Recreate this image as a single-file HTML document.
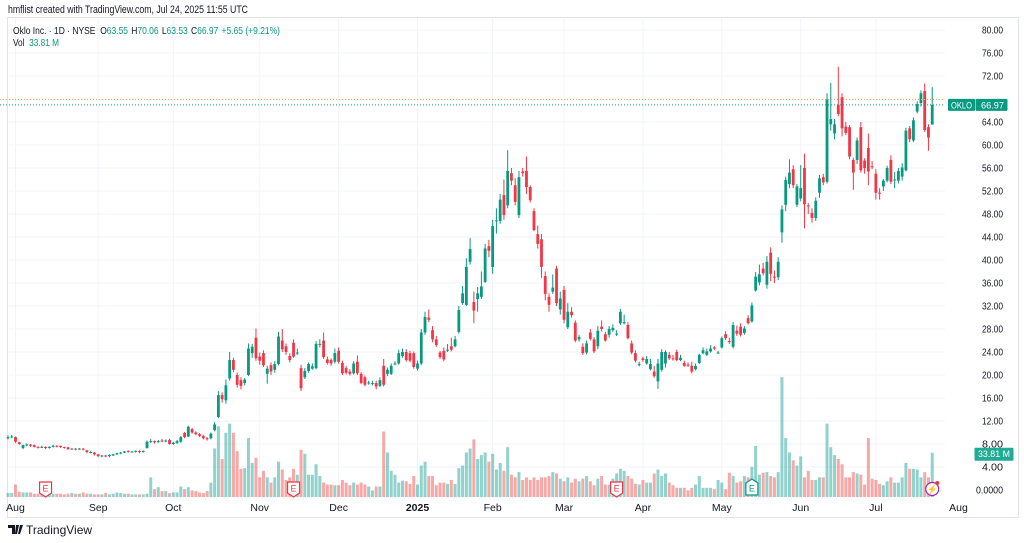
<!DOCTYPE html>
<html><head><meta charset="utf-8"><style>
html,body{margin:0;padding:0;background:#fff;}
svg{display:block;font-family:"Liberation Sans",sans-serif;}
</style></head><body>
<svg id="chart" width="1024" height="543" viewBox="0 0 1024 543" xmlns="http://www.w3.org/2000/svg">
<rect x="0" y="0" width="1024" height="543" fill="#ffffff"/>
<text x="8" y="13" font-size="11" fill="#131722" textLength="240" lengthAdjust="spacingAndGlyphs">hmflist created with TradingView.com, Jul 24, 2025 11:55 UTC</text>
<rect x="7.5" y="17.5" width="1011" height="500" fill="none" stroke="#e0e3eb"/>
<g id="grid"></g>
<g id="vol"></g>
<g id="candles"></g>
<g id="axes"></g>
<text x="13" y="34" font-size="10.5" fill="#131722" textLength="267" lengthAdjust="spacingAndGlyphs">Oklo Inc. · 1D · NYSE <tspan dx="3">O</tspan><tspan fill="#089981">63.55</tspan><tspan dx="4">H</tspan><tspan fill="#089981">70.06</tspan><tspan dx="4">L</tspan><tspan fill="#089981">63.53</tspan><tspan dx="4">C</tspan><tspan fill="#089981">66.97</tspan><tspan dx="4" fill="#089981">+5.65 (+9.21%)</tspan></text>
<text x="13" y="46" font-size="10.5" fill="#131722" textLength="46" lengthAdjust="spacingAndGlyphs">Vol <tspan dx="3" fill="#089981">33.81 M</tspan></text>
<g>
<path d="M8 525h7v9h-3v-6h-4z M16 525h3l-2 9h-2z M20 525h3l-3 9h-2z" fill="#131722"/>
<text x="26" y="534" font-size="12" fill="#131722">TradingView</text>
</g>
</svg>
<script>
const opens=[9.0,9.2,9.2,8.3,7.3,7.8,7.9,7.8,7.5,7.4,7.5,7.3,7.5,7.7,7.7,7.5,7.4,7.2,7.2,7.1,7.2,6.9,6.6,6.5,6.2,5.9,6.0,5.9,6.0,6.2,6.4,6.5,6.8,6.7,6.7,6.8,6.7,7.3,8.4,8.5,8.4,8.6,8.5,8.7,8.0,8.2,8.4,9.9,9.3,10.6,10.0,9.7,9.4,9.0,9.0,10.4,12.7,16.5,15.6,19.4,22.6,20.0,19.1,18.6,20.0,23.8,26.5,23.2,23.8,20.2,21.7,20.9,21.9,26.0,25.0,23.3,25.6,23.9,21.2,19.6,20.7,21.1,21.2,25.3,26.0,22.7,22.6,22.3,24.2,22.1,21.2,20.6,20.3,22.3,20.2,19.6,18.7,18.6,18.6,18.1,21.6,20.2,20.2,21.9,22.0,23.3,24.0,23.8,23.8,21.1,22.0,27.4,30.0,27.8,26.2,23.9,24.2,24.3,25.0,25.0,27.5,32.5,32.2,39.7,32.7,33.2,33.6,36.2,42.4,38.8,46.8,46.8,51.3,49.5,55.1,53.0,47.8,55.4,55.5,52.7,48.5,44.5,43.6,37.2,33.6,34.5,38.5,31.4,34.8,28.3,31.0,29.1,26.2,24.9,23.9,27.4,26.2,25.0,28.4,27.1,27.0,27.8,27.2,29.0,29.0,28.7,25.5,23.8,21.7,22.9,22.0,21.0,20.6,18.9,20.9,22.0,23.5,22.9,24.0,22.6,22.1,21.8,21.6,21.0,22.1,23.8,23.5,24.1,24.8,23.8,24.8,27.1,25.9,24.9,27.7,28.4,27.3,29.9,29.3,34.7,36.1,38.5,35.7,41.3,37.1,37.0,44.8,49.6,53.2,55.8,49.6,50.7,56.0,49.5,48.2,47.3,51.7,54.4,53.6,63.6,62.0,67.0,68.3,63.2,63.1,57.4,57.4,63.1,57.3,59.5,56.3,55.0,51.7,52.8,53.8,57.4,54.0,53.8,54.5,55.6,62.9,60.8,65.8,67.3,69.4,63.1,63.55];
const closes=[9.2,9.3,8.4,8.0,7.8,7.9,7.7,7.5,7.4,7.5,7.3,7.5,7.7,7.6,7.5,7.4,7.1,7.2,7.1,7.2,7.1,6.6,6.6,6.2,5.9,6.0,5.9,6.1,6.2,6.4,6.5,6.7,6.7,6.7,6.8,6.6,6.8,8.4,8.5,8.3,8.5,8.5,8.6,8.0,8.2,8.5,9.2,9.2,11.0,10.0,9.7,9.4,9.0,8.9,9.8,11.4,16.5,15.8,18.2,22.6,20.9,18.3,18.1,19.2,24.6,24.9,22.9,22.5,21.7,21.1,20.6,21.9,26.7,24.5,24.0,22.6,23.2,23.9,17.7,20.7,21.9,21.5,25.4,25.4,23.1,22.1,22.0,23.8,22.3,20.3,20.4,20.2,22.0,20.3,18.6,18.3,18.7,18.6,18.0,19.1,18.3,20.9,21.6,22.0,23.8,24.0,22.6,22.5,21.4,22.0,27.4,30.1,29.6,26.2,25.2,23.1,22.7,24.4,24.4,26.2,31.3,34.2,38.8,41.9,31.2,34.2,35.4,42.0,41.6,45.9,46.9,50.5,47.8,55.5,53.8,50.1,54.4,55.1,52.7,50.4,45.2,42.8,38.8,34.1,32.2,35.2,32.5,33.3,29.6,31.0,30.4,26.0,26.6,23.8,25.5,26.3,24.1,27.7,28.0,26.0,28.0,28.2,27.2,31.0,29.2,26.4,23.9,22.5,21.9,22.6,22.8,21.9,19.8,22.0,24.0,24.0,22.9,22.8,22.6,23.0,21.6,21.7,20.6,21.6,23.5,24.3,24.1,24.6,24.6,23.9,26.4,26.4,25.8,28.7,27.2,27.0,28.1,29.0,32.1,37.1,37.5,37.7,39.7,37.6,37.0,39.7,48.8,53.9,55.2,53.0,52.8,52.5,49.7,49.4,47.3,50.3,54.2,53.5,67.9,64.5,63.6,65.4,62.9,62.1,58.0,55.2,60.8,55.6,56.0,55.4,56.2,51.7,51.6,53.8,56.0,53.6,54.0,55.5,56.1,62.5,61.0,64.3,67.1,69.0,62.6,61.3,66.97];
const highs=[9.5,9.6,9.3,8.4,7.9,8.1,8.0,7.9,7.6,7.7,7.6,7.6,7.9,7.8,7.7,7.5,7.5,7.3,7.3,7.3,7.3,7.0,6.8,6.6,6.3,6.1,6.1,6.2,6.3,6.5,6.6,6.8,6.9,6.8,6.9,6.9,6.9,8.6,8.9,8.6,8.7,8.9,8.8,8.9,8.4,8.7,9.4,10.1,11.2,10.8,10.2,9.9,9.6,9.2,10.0,11.8,17.2,17.0,19.2,24.0,23.0,20.4,19.6,19.5,25.5,25.4,28.1,23.9,24.3,21.6,22.2,22.4,27.5,28.0,25.5,23.8,26.2,24.6,21.8,21.2,22.2,22.0,25.9,26.2,27.4,23.2,22.9,24.6,24.8,22.5,21.6,21.0,22.4,23.4,20.5,19.9,19.0,19.0,19.0,19.6,22.8,21.3,22.0,22.4,24.4,24.6,24.5,24.2,24.1,22.5,28.0,31.0,31.4,28.5,26.8,24.2,24.8,25.4,26.5,26.8,32.0,35.5,40.3,43.8,34.5,35.3,38.0,42.8,43.5,47.0,49.0,51.5,54.0,59.1,56.0,54.2,55.5,56.0,58.0,53.0,49.0,46.0,44.5,38.0,34.2,37.5,39.0,34.5,35.5,32.5,31.8,29.5,27.0,25.5,26.0,28.0,26.6,28.5,29.5,27.5,28.5,28.8,27.8,31.5,30.5,29.2,26.0,24.3,22.3,23.2,23.3,22.8,21.6,22.8,24.5,24.3,24.0,23.5,24.4,23.5,22.5,22.2,22.3,22.0,23.7,24.8,24.6,25.2,25.0,24.2,26.7,27.6,26.5,29.2,28.6,29.0,28.5,30.4,32.6,37.9,39.2,39.5,40.7,42.2,38.2,40.5,49.5,54.5,57.5,56.5,53.2,56.5,58.5,49.9,49.0,50.9,54.8,55.0,69.0,70.8,64.5,73.6,69.0,64.0,63.5,57.8,61.3,64.0,57.7,62.0,57.2,55.8,52.5,54.1,56.4,58.2,55.3,56.0,56.8,63.0,63.3,64.8,67.6,69.5,70.7,63.6,70.06];
const lows=[8.8,9.0,8.2,7.8,7.1,7.6,7.5,7.4,7.2,7.3,7.1,7.2,7.4,7.4,7.3,7.2,7.0,7.0,6.9,7.0,6.9,6.4,6.4,6.0,5.7,5.7,5.7,5.7,5.9,6.1,6.2,6.4,6.5,6.5,6.5,6.4,6.5,7.2,8.2,8.1,8.2,8.3,8.3,7.9,7.8,8.0,8.2,9.0,9.2,9.8,9.5,9.2,8.8,8.6,8.8,10.2,12.5,15.2,15.0,19.0,20.5,17.8,17.5,18.2,19.8,23.0,22.5,21.8,21.4,18.5,20.0,20.4,21.7,24.0,23.5,22.2,23.0,23.5,17.2,19.3,20.4,20.9,21.0,24.8,22.8,21.8,21.6,22.0,22.0,20.0,20.1,19.9,20.1,20.0,18.4,18.0,18.3,18.2,17.5,17.9,18.0,19.8,20.0,21.7,21.8,23.0,22.3,22.2,21.1,20.8,21.7,27.0,29.2,25.7,24.9,22.8,22.4,24.0,24.1,24.8,27.2,32.2,32.0,39.2,29.0,31.0,33.2,36.0,40.5,37.6,44.6,46.3,47.0,49.0,53.0,49.5,47.3,54.5,51.5,50.0,45.0,42.0,36.9,33.0,31.0,34.1,32.0,30.5,29.0,28.0,30.0,25.7,25.8,23.5,23.6,26.0,23.8,24.5,27.6,25.8,26.5,27.5,26.8,28.7,28.8,26.2,23.6,22.2,21.5,22.3,21.8,20.8,19.5,17.6,20.6,21.3,22.6,22.5,22.4,22.4,21.4,21.4,20.3,20.8,21.9,23.6,23.3,23.9,24.3,23.7,24.6,26.1,25.4,24.6,26.8,26.7,27.0,28.8,29.1,34.5,35.6,37.3,35.0,36.3,36.0,36.5,43.0,48.5,52.5,52.5,49.2,50.2,45.5,48.0,46.5,46.8,50.8,53.0,53.3,62.5,61.0,65.0,61.5,61.7,57.5,52.2,56.7,55.2,55.0,53.0,55.8,50.5,50.5,52.0,53.5,53.2,52.5,53.3,53.8,55.4,60.5,60.5,65.5,66.7,62.3,59.0,63.53];
const volumes=[3,3,9.5,4,3.5,3.5,3.5,2.5,2.5,2.5,3,2.5,2.5,2.5,2.5,2,2.5,3,2.5,2.5,3.5,2.5,2.5,2,2,2,3,2,2.5,3.5,3,2.5,2.5,2,2,2,2,2.5,15,6,7.5,4.5,4.5,3,3.5,3.5,8,6,7.5,5,4.5,3.5,3,4.5,11,37,54,29,49,56,49,35,21.5,22,45,26,30,15,20,15,11,15,27,21,13,15,21.5,17,36,33,17,17,25,16,11,9.5,9.5,9,9,13,11,9,11,9.5,11,9.5,8,5,8,8,50,34,20,17,11,12.5,12,10,16,9.5,24,27,16,16,9,11,11,10,13,10,22,24,34,37,44,29,32,34,27,33,21,26,20,38,17,15,19,13,15,13,15,13,15,15,16,19,18,14,12,15,11,14,12,14,16,12,9,14,16,9.5,9.5,14,18,21.5,20,16,14,10,9.5,13,11,11,18,21,16,18,11,9,7,7,7,5,7,9.5,16,7,7,7,6,13,11,6,18.5,16,11,12,16,15,23,39,17,18.5,19,16,15,19,91.5,45,34,28,24,31,15,20,13,13,15,15,56,38,32,29,25,15,15,19,18,17,9.5,45,14,13,10,9,12,15,11,11,15,26,21.5,21.5,21,15,19,15,33.81];
const priceTicks=[0,4,8,12,16,20,24,28,32,36,40,44,48,52,56,60,64,68,72,76,80];
const monthLabels=["Aug","Sep","Oct","Nov","Dec","2025","Feb","Mar","Apr","May","Jun","Jul","Aug"];
const monthIndex=[2,24,44,67,88,109,129,148,169,190,211,231,253];
const earningsIdx=[10,76,162,198];
const earningsBeat=[false,false,false,true];

const NS="http://www.w3.org/2000/svg";
const X0=8, STEP=3.757, Y0=490, PPU=5.75, VBASE=497, VPX=1.31;
const xOf=i=>X0+i*STEP;
const yOf=p=>Y0-p*PPU;
const vh=v=>v*VPX;
function mk(tag,attrs,parent){const e=document.createElementNS(NS,tag);for(const k in attrs)e.setAttribute(k,attrs[k]);parent.appendChild(e);return e;}
const grid=document.getElementById('grid'),vol=document.getElementById('vol'),cg=document.getElementById('candles'),ax=document.getElementById('axes');

priceTicks.forEach(t=>{
  const y=yOf(t);
  if(t>0){const l=mk('line',{x1:8,x2:945,y1:y,y2:y,stroke:'#f0f3fa','stroke-width':1},grid);
  
  }
  if(t===68) return;
  const s=t===0?'0.0000':t.toFixed(2);
  const tx=mk('text',{x:1003,y:y+3.5,'font-size':10,fill:'#131722','text-anchor':'end',textLength:t===0?27:21,lengthAdjust:'spacingAndGlyphs'},ax);
  tx.textContent=s;
  
  
});
monthLabels.forEach((m,k)=>{
  const x=xOf(monthIndex[k]);
  if(x<945){const l=mk('line',{x1:x,x2:x,y1:18,y2:497,stroke:'#f0f3fa','stroke-width':1},grid);
  
  }
  const tx=mk('text',{x:x,y:511,'font-size':10.5,fill:'#131722','text-anchor':'middle','font-weight':m==='2025'?'bold':'normal'},ax);
  tx.textContent=m;
  
  
});

for(let i=0;i<closes.length;i++){
  const up=closes[i]>=opens[i];
  const x=xOf(i);
  const h=vh(volumes[i]);
  const vb=mk('rect',{x:x-1.5,y:VBASE-h,width:3,height:h,fill:up?'rgba(38,166,154,0.5)':'rgba(239,83,80,0.5)'},vol);
  
  
  const col=up?'#089981':'#f23645';
  const w=mk('line',{x1:x,x2:x,y1:yOf(highs[i]),y2:yOf(lows[i]),stroke:col,'stroke-width':1},cg);
  
  
  const top=yOf(Math.max(opens[i],closes[i])),bot=yOf(Math.min(opens[i],closes[i]));
  const b=mk('rect',{x:x-1.4,y:top,width:2.8,height:Math.max(1,bot-top),fill:col},cg);
  
  
}

const hl=mk('line',{x1:0,x2:945,y1:99.5,y2:99.5,stroke:'#f7a35c','stroke-width':1,'stroke-dasharray':'1,2'},ax);


const last=closes[closes.length-1];
const ll=mk('line',{x1:0,x2:945,y1:yOf(last),y2:yOf(last),stroke:'#089981','stroke-width':1,'stroke-dasharray':'1,2'},ax);



const by=yOf(last);
const b1=mk('rect',{x:948,y:by-6,width:27,height:12,fill:'#089981',rx:1},ax);


const t1=mk('text',{x:961.5,y:by+3.5,'font-size':9.5,fill:'#fff','text-anchor':'middle',textLength:21,lengthAdjust:'spacingAndGlyphs'},ax);t1.textContent='OKLO';


const b2=mk('rect',{x:975.5,y:by-6,width:32,height:12,fill:'#089981',rx:1},ax);


const t2=mk('text',{x:1004,y:by+3.5,'font-size':9.5,fill:'#fff','text-anchor':'end',textLength:23,lengthAdjust:'spacingAndGlyphs'},ax);t2.textContent=last.toFixed(2);


const lv=volumes[volumes.length-1];
const vy=VBASE-vh(lv)+1;
const b3=mk('rect',{x:974.5,y:vy-6,width:39,height:13,fill:'#22ab94',rx:1},ax);


const t3=mk('text',{x:1010,y:vy+3.5,'font-size':9.5,fill:'#fff','text-anchor':'end',textLength:32,lengthAdjust:'spacingAndGlyphs'},ax);t3.textContent=lv.toFixed(2)+' M';



earningsIdx.forEach((ix,k)=>{
  const x=xOf(ix), col=earningsBeat[k]?'#089981':'#f23645';
  const g=mk('g',{},ax);
  
  
  if(earningsBeat[k]) mk('path',{d:`M${x-6} ${483} L${x} ${479} L${x+6} ${483} V${495} H${x-6} Z`,fill:'#fff',stroke:col,'stroke-width':1.2},g);
  else mk('path',{d:`M${x-6} ${482} H${x+6} V${493} L${x} ${497} L${x-6} ${493} Z`,fill:'#fff',stroke:col,'stroke-width':1.2},g);
  const t=mk('text',{x:x,y:491.5,'font-size':9,fill:col,'text-anchor':'middle'},g);t.textContent='E';
});
const lx=xOf(closes.length-1);
const lg=mk('g',{},ax);


mk('circle',{cx:lx,cy:489,r:6.5,fill:'#fff',stroke:'#9c27b0','stroke-width':1.2},lg);
const lt=mk('text',{x:lx,y:492.5,'font-size':9,fill:'#9c27b0','text-anchor':'middle'},lg);lt.textContent='⚡';
mk('circle',{cx:lx+5,cy:483,r:2,fill:'#f23645'},lg);
</script>
</body></html>
